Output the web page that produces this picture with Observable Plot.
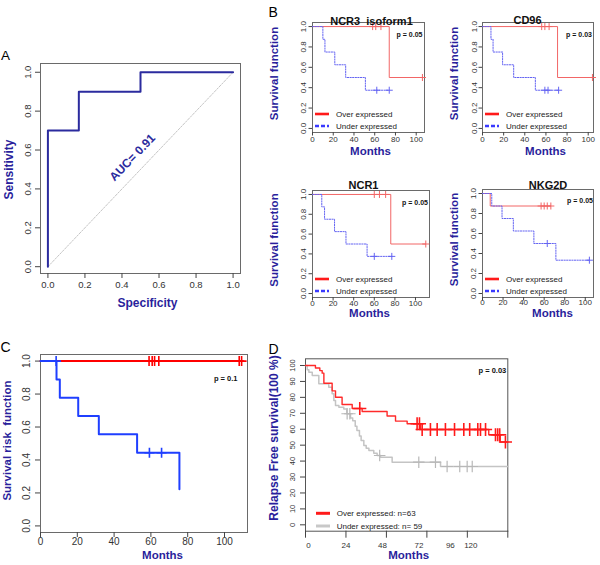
<!DOCTYPE html>
<html>
<head>
<meta charset="utf-8">
<script src="https://cdn.jsdelivr.net/npm/d3@7"></script>
<script src="https://cdn.jsdelivr.net/npm/@observablehq/plot@0.6"></script>
<style>
  html, body { margin: 0; padding: 0; background: #fff; }
  #fig { position: relative; width: 600px; height: 565px; overflow: hidden; background: #fff; }
  #fig svg { position: absolute; left: 0; top: 0; background: transparent !important;
             font-family: "Liberation Sans", Arial, Helvetica, sans-serif; }
</style>
</head>
<body>
<div id="fig"></div>
<script>
// ================= DATA =================
// Panel A : ROC curve
const rocSpecificity = [0, 0, 0.167, 0.167, 0.5, 0.5, 1];
const rocSensitivity = [0, 0.7, 0.7, 0.9, 0.9, 1, 1];
const chanceLine = [0, 1];
const aucLabel = "AUC= 0.91";
const unitTicks = [0, 0.2, 0.4, 0.6, 0.8, 1];

// Panel B : four Kaplan-Meier plots
const bTitles = ["NCR3  isoform1", "CD96", "NCR1", "NKG2D"];
const bPvalues = ["p = 0.05", "p = 0.03", "p = 0.05", "p = 0.05"];
const bOverTimes  = [[0, 74, 106], [0, 71, 104], [0, 76, 110], [0, 7.5, 66.5]];
const bOverSurv   = [[1, 0.5, 0.5], [1, 0.5, 0.5], [1, 0.5, 0.5], [1, 0.875, 0.875]];
const bOverCensor = [[58, 61, 66, 106], [56, 59, 63, 104], [60, 65, 71, 110], [57, 60, 63, 66.5]];
const bUnderTimes = [[0, 10, 12, 21.5, 32, 51, 74], [0, 8, 10, 19, 29.5, 50, 72],
                     [0, 9, 11.7, 21.4, 32.5, 53, 77], [0, 9, 19, 30, 50, 71.4, 104]];
const bUnderSurv  = [[1, 0.875, 0.75, 0.625, 0.5, 0.375, 0.375], [1, 0.875, 0.75, 0.625, 0.5, 0.375, 0.375],
                     [1, 0.875, 0.75, 0.625, 0.5, 0.375, 0.375], [1, 0.875, 0.75, 0.625, 0.5, 0.333, 0.333]];
const bUnderCensor = [[62, 74], [59, 62, 72], [60, 77], [63, 104]];
const bLegend = ["Over expressed", "Under expressed"];
const bMonthTicks = [0, 20, 40, 60, 80, 100];

// Panel C
const cOverTimes = [0, 109.3];
const cOverSurv = [1, 1];
const cOverCensor = [59, 60.7, 62, 64.3, 108, 109.3];
const cUnderTimes = [0, 8.7, 10.5, 20.5, 31.7, 52.5, 75.5];
const cUnderSurv = [1, 0.889, 0.778, 0.667, 0.556, 0.444, 0.222];
const cUnderCensor = [8.5, 59.2, 65.8];
const cPvalue = "p = 0.1";
const cMonthTicks = [0, 20, 40, 60, 80, 100];

// Panel D
const dOverTimes = [0, 5.9, 8.5, 9.9, 10.9, 15.8, 17.8, 21.7, 27.7, 33.6, 48.4, 53.4, 60.3, 68.2, 108.7, 115.5, 120];
const dOverSurv  = [100, 98.4, 96.8, 95.2, 88.9, 84.1, 80.1, 75.5, 73.0, 71.1, 68.3, 65.1, 63.4, 59.8, 56.5, 52, 52];
const dOverCensor = [32.2, 66.2, 67.6, 69.2, 74.1, 78.1, 83, 88.4, 93.9, 97.4, 102.2, 103.8, 106.8, 112.7, 114, 115.2, 118.6];
const dUnderTimes = [0, 1, 2, 4, 7.9, 13.8, 15.8, 16.8, 17.8, 19.8, 22.7, 24.5, 26.7, 28, 29.5, 30.5, 32, 33, 34.6, 36, 37.6, 40.5, 42.5, 44.5, 51.4, 80.1, 120];
const dUnderSurv  = [100, 97.3, 95.8, 93.7, 88.5, 86.4, 82.2, 78, 74.9, 73.8, 72.7, 69.7, 67, 65.3, 61.9, 59.2, 55.8, 52.9, 49.8, 48.1, 46.6, 45, 43.5, 42.4, 39.3, 36.6, 36.6];
const dUnderCensor = [24.7, 26.3, 44, 67.2, 77.1, 84, 91.5, 95.9, 98.9];
const dLegend = ["Over expressed: n=63", "Under expressed: n= 59"];
const dPvalue = "p = 0.03";
const dMonthTicks = [0, 24, 48, 72, 96, 120];
const dMonthLabels = ["0", "24", "48", "72", "96", "120"];
const dPercentTicks = [0, 10, 20, 30, 40, 50, 60, 70, 80, 90, 100];

// ================= HELPERS =================
const W = 600, H = 565;
const NS = "http://www.w3.org/2000/svg";
const LAB = "#2a1f9c", TXT = "#333", AX = "#444", FRAME = "#6a6a6a";
const STYLE = {background: "transparent", overflow: "visible"};
const fmt1 = d3.format(".1f");

const steps = (times, surv) => times.map((t, i) => ({t, s: surv[i]}));
function survAt(times, surv, t) {
  let v = surv[0];
  for (let i = 0; i < times.length; i++) if (times[i] <= t) v = surv[i];
  return v;
}
const censors = (cs, times, surv) => cs.map(t => ({t, s: survAt(times, surv, t)}));

function legendMark(items, o) {
  return (index, scales, values, dim) => {
    const g = document.createElementNS(NS, "g");
    const left = dim.marginLeft, bottom = dim.height - dim.marginBottom;
    items.forEach((it, i) => {
      const y = bottom - o.rows[i];
      const ln = document.createElementNS(NS, "line");
      ln.setAttribute("x1", left + o.x0); ln.setAttribute("x2", left + o.x0 + o.len);
      ln.setAttribute("y1", y); ln.setAttribute("y2", y);
      ln.setAttribute("stroke", it.color); ln.setAttribute("stroke-width", it.width);
      if (it.dash) ln.setAttribute("stroke-dasharray", it.dash);
      g.appendChild(ln);
      const tx = document.createElementNS(NS, "text");
      tx.setAttribute("x", left + o.tx); tx.setAttribute("y", y); tx.setAttribute("dy", "0.35em");
      tx.setAttribute("font-size", o.fontSize); tx.setAttribute("fill", "#222");
      tx.setAttribute("text-anchor", "start");
      tx.textContent = it.label;
      g.appendChild(tx);
    });
    return g;
  };
}

function frameMargins(L, R, T, B) {
  return {width: W, height: H, marginLeft: L, marginRight: W - R, marginTop: T, marginBottom: H - B};
}
// rotated axis title centred on the frame's left side
function yTitle(label, dx, dy, size) {
  return Plot.text([label], {frameAnchor: "left", textAnchor: "middle", dx, dy, rotate: -90, text: d => d,
                             fontSize: size, fontWeight: "bold", fill: LAB});
}
function xTitle(label, dx, dy, size) {
  return Plot.text([label], {frameAnchor: "bottom", textAnchor: "middle", dx, dy, text: d => d,
                             fontSize: size, fontWeight: "bold", fill: LAB});
}

const fig = document.getElementById("fig");

// ================= PANEL A =================
const roc = rocSpecificity.map((x, i) => ({x, y: rocSensitivity[i]}));
fig.appendChild(Plot.plot({
  ...frameMargins(40, 240, 63, 273),
  x: {domain: [-0.04, 1.04]}, y: {domain: [-0.035, 1.045]},
  style: STYLE,
  marks: [
    Plot.frame({stroke: FRAME}),
    Plot.axisX({ticks: unitTicks, tickSize: 5, tickFormat: () => "", label: null, anchor: "bottom", stroke: AX}),
    Plot.axisY({ticks: unitTicks, tickSize: 5, tickFormat: () => "", label: null, anchor: "left", stroke: AX}),
    Plot.text(unitTicks, {x: d => d, frameAnchor: "bottom", textAnchor: "middle", dy: 14.3, text: fmt1, fontSize: 9.5, fill: TXT}),
    Plot.text(unitTicks, {y: d => d, frameAnchor: "left", dx: -12.5, rotate: -90, textAnchor: "middle", text: fmt1, fontSize: 9.5, fill: TXT}),
    Plot.line(chanceLine, {x: d => d, y: d => d, stroke: "#b5b5b5", strokeWidth: 0.8, strokeDasharray: "2 1.5"}),
    Plot.line(roc, {x: "x", y: "y", stroke: "#2b2b9e", strokeWidth: 2}),
    Plot.text([aucLabel], {frameAnchor: "middle", textAnchor: "middle", dx: -8, dy: -11, rotate: -46, text: d => d, fontSize: 12, fontWeight: "bold", fill: "#2b2b9e"}),
    xTitle("Specificity", 7, 33, 12),
    yTitle("Sensitivity", -31.7, 1, 12),
    Plot.text(["A"], {frameAnchor: "top-left", dx: -39.5, dy: -13.5, textAnchor: "start", text: d => d, fontSize: 13.5, fill: "#000"})
  ]
}));

// ================= PANEL B =================
const bLayouts = [
  {L: 312, R: 424, T: 22, B: 132, xmax: 108, titleDx: 3, titleDy: -5.5, mDx: 2, mDy: 22, ylDx: -38, ytDx: -9, xtDy: 9.7, pDx: -2, pDy: 10, letter: true},
  {L: 482, R: 593, T: 22, B: 132, xmax: 105, titleDx: -10.5, titleDy: -6.5, mDx: 7.5, mDy: 22, ylDx: -28, ytDx: -8, xtDy: 9.7, pDx: -1.5, pDy: 10},
  {L: 312, R: 429, T: 190, B: 297, xmax: 113.6, titleDx: -7.5, titleDy: -9, mDx: -1.5, mDy: 19.5, ylDx: -38, ytDx: -9, xtDy: 8, pDx: -1.5, pDy: 10},
  {L: 482, R: 593, T: 189, B: 297, xmax: 108, titleDx: 10, titleDy: -8, mDx: 14.5, mDy: 19.5, ylDx: -28, ytDx: -9, xtDy: 7.5, pDx: -0.5, pDy: 8.5}
];
const B_RED = "#f26666", B_BLUE = "#6464f2";
bLayouts.forEach((lay, i) => {
  const over = steps(bOverTimes[i], bOverSurv[i]);
  const under = steps(bUnderTimes[i], bUnderSurv[i]);
  const overC = censors(bOverCensor[i], bOverTimes[i], bOverSurv[i]);
  const underC = censors(bUnderCensor[i], bUnderTimes[i], bUnderSurv[i]);
  const marks = [
    Plot.frame({stroke: FRAME}),
    Plot.axisX({ticks: bMonthTicks, tickSize: 3.5, tickFormat: () => "", label: null, anchor: "bottom", stroke: AX}),
    Plot.axisY({ticks: unitTicks, tickSize: 3.5, tickFormat: () => "", label: null, anchor: "left", stroke: AX}),
    Plot.text(bMonthTicks, {x: d => d, frameAnchor: "bottom", textAnchor: "middle", dy: lay.xtDy, text: d => String(d), fontSize: 8, fill: TXT}),
    Plot.text(unitTicks, {y: d => d, frameAnchor: "left", dx: lay.ytDx, rotate: -90, textAnchor: "middle", text: fmt1, fontSize: 8, fill: TXT}),
    Plot.line(over, {x: "t", y: "s", curve: "step-after", stroke: B_RED, strokeWidth: 1}),
    Plot.line(under, {x: "t", y: "s", curve: "step-after", stroke: B_BLUE, strokeWidth: 1, strokeDasharray: "1.3 1.3"}),
    Plot.dot(overC, {x: "t", y: "s", symbol: "plus", r: 2.4, stroke: B_RED, strokeWidth: 1}),
    Plot.dot(underC, {x: "t", y: "s", symbol: "plus", r: 2.4, stroke: B_BLUE, strokeWidth: 1}),
    Plot.text([bTitles[i]], {frameAnchor: "top", textAnchor: "middle", dx: lay.titleDx, dy: lay.titleDy, text: d => d, fontSize: 11, fontWeight: "bold", fill: "#111"}),
    Plot.text([bPvalues[i]], {frameAnchor: "top-right", textAnchor: "end", dx: lay.pDx, dy: lay.pDy, text: d => d, fontSize: 7, fontWeight: "bold", fill: "#111"}),
    xTitle("Months", lay.mDx, lay.mDy, 11.5),
    yTitle("Survival function", lay.ylDx, -4, 11.5),
    legendMark([
      {label: bLegend[0], color: "#ff1a1a", width: 2.6},
      {label: bLegend[1], color: "#3a3aff", width: 2.6, dash: "4 2"}
    ], {rows: [18, 6], x0: 3, len: 14, tx: 24, fontSize: 8})
  ];
  if (lay.letter) marks.push(Plot.text(["B"], {frameAnchor: "top-left", dx: -44, dy: -15, textAnchor: "start", text: d => d, fontSize: 14, fill: "#000"}));
  fig.appendChild(Plot.plot({
    ...frameMargins(lay.L, lay.R, lay.T, lay.B),
    x: {domain: [0, lay.xmax]}, y: {domain: [-0.04, 1.04]},
    style: STYLE,
    marks
  }));
});

// ================= PANEL C =================
fig.appendChild(Plot.plot({
  ...frameMargins(40, 247, 354, 532),
  x: {domain: [0, 112.5]}, y: {domain: [-0.04, 1.04]},
  style: STYLE,
  marks: [
    Plot.frame({stroke: FRAME}),
    Plot.axisX({ticks: cMonthTicks, tickSize: 5, tickFormat: () => "", label: null, anchor: "bottom", stroke: AX}),
    Plot.axisY({ticks: unitTicks, tickSize: 5, tickFormat: () => "", label: null, anchor: "left", stroke: AX}),
    Plot.text(cMonthTicks, {x: d => d, frameAnchor: "bottom", textAnchor: "middle", dy: 12.5, text: d => String(d), fontSize: 10, fill: TXT}),
    Plot.text(unitTicks, {y: d => d, frameAnchor: "left", dx: -13.3, rotate: -90, textAnchor: "middle", text: fmt1, fontSize: 10, fill: TXT}),
    Plot.line(steps(cOverTimes, cOverSurv), {x: "t", y: "s", curve: "step-after", stroke: "#ff0000", strokeWidth: 2}),
    Plot.line(steps(cUnderTimes, cUnderSurv), {x: "t", y: "s", curve: "step-after", stroke: "#1f3fff", strokeWidth: 2}),
    Plot.dot(censors(cOverCensor, cOverTimes, cOverSurv), {x: "t", y: "s", symbol: "plus", r: 3.3, stroke: "#ff0000", strokeWidth: 1.6}),
    Plot.dot(censors(cUnderCensor, cUnderTimes, cUnderSurv), {x: "t", y: "s", symbol: "plus", r: 3.3, stroke: "#1f3fff", strokeWidth: 1.6}),
    Plot.text([cPvalue], {frameAnchor: "top-right", textAnchor: "end", dx: -10, dy: 21, text: d => d, fontSize: 7.5, fontWeight: "bold", fill: "#111"}),
    xTitle("Months", 18.5, 26, 11.5),
    yTitle("Survival risk  function", -33.3, -3, 11.5),
    Plot.text(["C"], {frameAnchor: "top-left", dx: -40, dy: -12.3, textAnchor: "start", text: d => d, fontSize: 14, fill: "#000"})
  ]
}));

// ================= PANEL D =================
const dLabelNudge = [3, 0, -4, -8, -17, -37];
fig.appendChild(Plot.plot({
  ...frameMargins(305, 507.3, 358.3, 530.7),
  x: {domain: [0, 120]}, y: {domain: [-4, 104.2]},
  style: STYLE,
  marks: [
    Plot.frame({stroke: "#555"}),
    Plot.axisX({ticks: dMonthTicks, tickSize: 7, tickFormat: () => "", label: null, anchor: "bottom", stroke: AX}),
    Plot.axisY({ticks: dPercentTicks, tickSize: 5, tickFormat: () => "", label: null, anchor: "left", stroke: AX}),
    ...dMonthTicks.map((t, i) => Plot.text([t], {x: d => d, frameAnchor: "bottom", textAnchor: "middle", dy: 16.6, dx: dLabelNudge[i], text: () => dMonthLabels[i], fontSize: 8, fill: TXT})),
    Plot.text(dPercentTicks, {y: d => d, frameAnchor: "left", dx: -13.3, rotate: -90, textAnchor: "middle", text: d => String(d), fontSize: 7.5, fill: TXT}),
    Plot.line(steps(dUnderTimes, dUnderSurv), {x: "t", y: "s", curve: "step-after", stroke: "#c4c4c4", strokeWidth: 1.5}),
    Plot.line(steps(dOverTimes, dOverSurv), {x: "t", y: "s", curve: "step-after", stroke: "#ff2a2a", strokeWidth: 1.4}),
    Plot.dot(censors(dUnderCensor, dUnderTimes, dUnderSurv), {x: "t", y: "s", symbol: "plus", r: 3.8, stroke: "#b8b8b8", strokeWidth: 1.2}),
    Plot.dot(censors(dOverCensor, dOverTimes, dOverSurv), {x: "t", y: "s", symbol: "plus", r: 4.3, stroke: "#ff1a1a", strokeWidth: 1.6}),
    Plot.text([dPvalue], {frameAnchor: "top-right", textAnchor: "end", dx: -1.5, dy: 9, text: d => d, fontSize: 7.5, fontWeight: "bold", fill: "#111"}),
    xTitle("Months", 2, 27.6, 11.5),
    yTitle("Relapse Free survival(100 %)", -31, -7, 12),
    legendMark([
      {label: dLegend[0], color: "#ff1a1a", width: 3},
      {label: dLegend[1], color: "#c8c8c8", width: 3}
    ], {rows: [17.4, 4.7], x0: 11, len: 14, tx: 31.7, fontSize: 8}),
    Plot.text(["D"], {frameAnchor: "top-left", dx: -37, dy: -15, textAnchor: "start", text: d => d, fontSize: 14, fill: "#000"})
  ]
}));
</script>
</body>
</html>
